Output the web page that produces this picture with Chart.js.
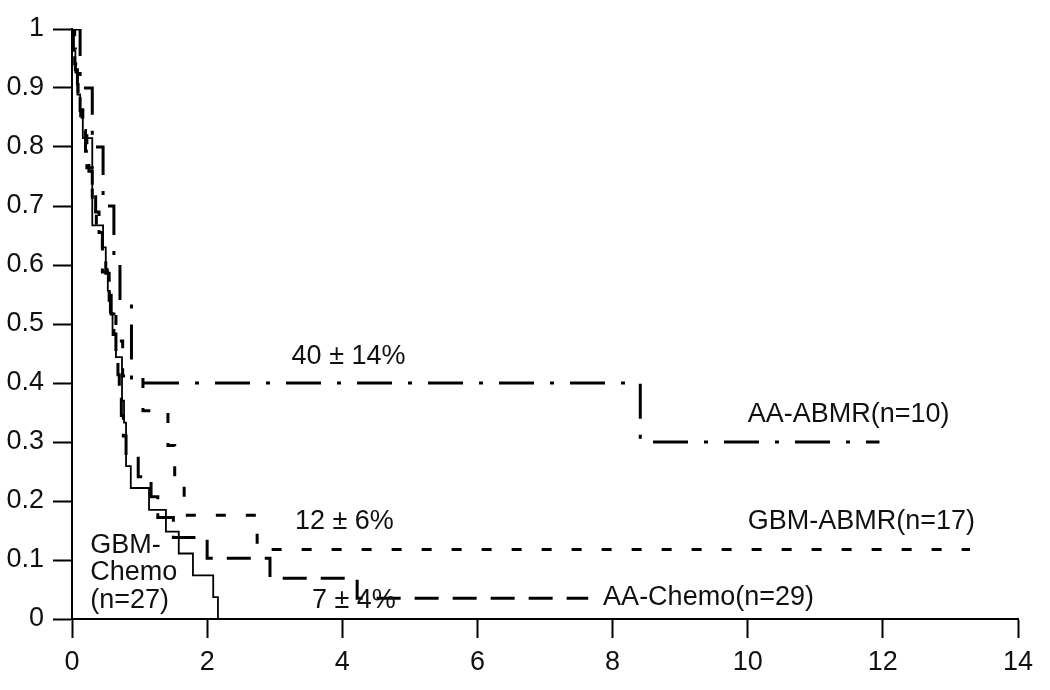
<!DOCTYPE html>
<html>
<head>
<meta charset="utf-8">
<script src="https://cdn.jsdelivr.net/npm/chart.js@4"></script>
<style>
  html, body { margin: 0; padding: 0; background: #fff; }
  #km-chart { display: block; }
</style>
</head>
<body>
<canvas id="km-chart" width="1050" height="690"></canvas>
<script>
// Axis ticks
const xTicks = [0, 2, 4, 6, 8, 10, 12, 14];
const yTickLabels = ["0", "0.1", "0.2", "0.3", "0.4", "0.5", "0.6", "0.7", "0.8", "0.9", "1"];

// AA-ABMR (n=10) - dash dot
const aaAbmrTime = [0, 0.12, 0.3, 0.46, 0.62, 0.71, 0.88, 8.41, 11.95];
const aaAbmrSurv = [1, 0.9, 0.8, 0.7, 0.6, 0.533, 0.4, 0.3, 0.3];

// GBM-ABMR (n=17) - short dashes
const gbmAbmrTime = [0, 0.04, 0.09, 0.16, 0.22, 0.3, 0.36, 0.45, 0.55, 0.65, 0.75, 1.05, 1.42, 1.52, 1.66, 2.74, 13.29];
const gbmAbmrSurv = [1, 0.941, 0.882, 0.824, 0.765, 0.706, 0.647, 0.588, 0.529, 0.471, 0.412, 0.353, 0.294, 0.235, 0.176, 0.118, 0.118];

// AA-Chemo (n=29) - long dashes
const aaChemoTime = [0, 0.02, 0.05, 0.08, 0.12, 0.15, 0.2, 0.25, 0.3, 0.35, 0.4, 0.45, 0.5, 0.55, 0.58, 0.62, 0.65, 0.68, 0.7, 0.73, 0.76, 0.8, 0.98, 1.17, 1.27, 1.5, 2.0, 2.93, 4.22, 7.64];
const aaChemoSurv = [1, 0.966, 0.931, 0.897, 0.862, 0.828, 0.793, 0.759, 0.724, 0.69, 0.655, 0.621, 0.586, 0.552, 0.517, 0.483, 0.448, 0.414, 0.379, 0.345, 0.31, 0.276, 0.241, 0.207, 0.172, 0.138, 0.103, 0.069, 0.035, 0.035];

// GBM-Chemo (n=27) - solid
const gbmChemoTime = [0, 0.02, 0.05, 0.08, 0.12, 0.16, 0.3, 0.46, 0.5, 0.53, 0.56, 0.6, 0.65, 0.74, 0.77, 0.8, 0.87, 1.14, 1.39, 1.58, 1.79, 2.09, 2.16];
const gbmChemoSurv = [1, 0.963, 0.926, 0.889, 0.852, 0.815, 0.667, 0.63, 0.593, 0.556, 0.519, 0.481, 0.444, 0.37, 0.333, 0.259, 0.222, 0.185, 0.148, 0.111, 0.074, 0.037, 0];

// Text annotations (data coordinates)
const noteTexts = ["40 ± 14%", "AA-ABMR(n=10)", "12 ± 6%", "GBM-ABMR(n=17)", "GBM-", "Chemo", "(n=27)", "7 ± 4%", "AA-Chemo(n=29)"];
const noteX = [3.25, 10.0, 3.3, 10.0, 0.27, 0.27, 0.27, 3.55, 7.86];
const noteY = [0.444, 0.346, 0.166, 0.166, 0.125, 0.078, 0.031, 0.032, 0.036];

const FONT = "'Liberation Sans', Arial, sans-serif";

function toPoints(times, surv) {
  return times.map((t, i) => ({ x: t, y: surv[i] }));
}

function kmDataset(label, times, surv, dash, width) {
  return {
    label: label,
    data: toPoints(times, surv),
    borderColor: "#000",
    borderWidth: width,
    borderDash: dash,
    stepped: "before",
    fill: false,
    pointRadius: 0,
  };
}

// Draws the percentage and group labels
const notesPlugin = {
  id: "notes",
  afterDatasetsDraw(chart) {
    const ctx = chart.ctx;
    const xs = chart.scales.x;
    const ys = chart.scales.y;
    ctx.save();
    ctx.fillStyle = "#111";
    ctx.font = "27px " + FONT;
    ctx.textAlign = "left";
    ctx.textBaseline = "middle";
    noteTexts.forEach((txt, i) => {
      ctx.fillText(txt, xs.getPixelForValue(noteX[i]), ys.getPixelForValue(noteY[i]));
    });
    ctx.restore();
  },
};

const kmChart = new Chart(document.getElementById("km-chart"), {
  type: "line",
  data: {
    datasets: [
      kmDataset("AA-ABMR", aaAbmrTime, aaAbmrSurv, [35, 16, 4, 16], 3),
      kmDataset("GBM-ABMR", gbmAbmrTime, gbmAbmrSurv, [10, 20], 3),
      kmDataset("AA-Chemo", aaChemoTime, aaChemoSurv, [24, 14], 3),
      kmDataset("GBM-Chemo", gbmChemoTime, gbmChemoSurv, [], 1.8),
    ],
  },
  options: {
    responsive: false,
    animation: false,
    devicePixelRatio: 1,
    layout: { padding: { top: 29, right: 32, left: 0, bottom: 0 } },
    plugins: { legend: { display: false }, tooltip: { enabled: false } },
    scales: {
      x: {
        type: "linear",
        min: 0,
        max: 14,
        afterBuildTicks: (scale) => {
          scale.ticks = xTicks.map((v) => ({ value: v }));
        },
        afterFit: (scale) => { scale.height = 71; },
        ticks: {
          color: "#111",
          font: { family: FONT, size: 27 },
          padding: 8,
          maxRotation: 0,
        },
        grid: { drawOnChartArea: false, drawTicks: true, tickLength: 19, tickWidth: 2, tickColor: "#000" },
        border: { display: true, color: "#000", width: 2 },
      },
      y: {
        type: "linear",
        min: 0,
        max: 1,
        afterBuildTicks: (scale) => {
          scale.ticks = yTickLabels.map((s, i) => ({ value: i / 10 }));
        },
        afterFit: (scale) => { scale.width = 72; },
        ticks: {
          color: "#111",
          font: { family: FONT, size: 27 },
          padding: 9,
          callback: (v) => yTickLabels[Math.round(v * 10)],
        },
        grid: { drawOnChartArea: false, drawTicks: true, tickLength: 19, tickWidth: 2, tickColor: "#000" },
        border: { display: true, color: "#000", width: 2 },
      },
    },
  },
  plugins: [notesPlugin],
});
</script>
</body>
</html>
